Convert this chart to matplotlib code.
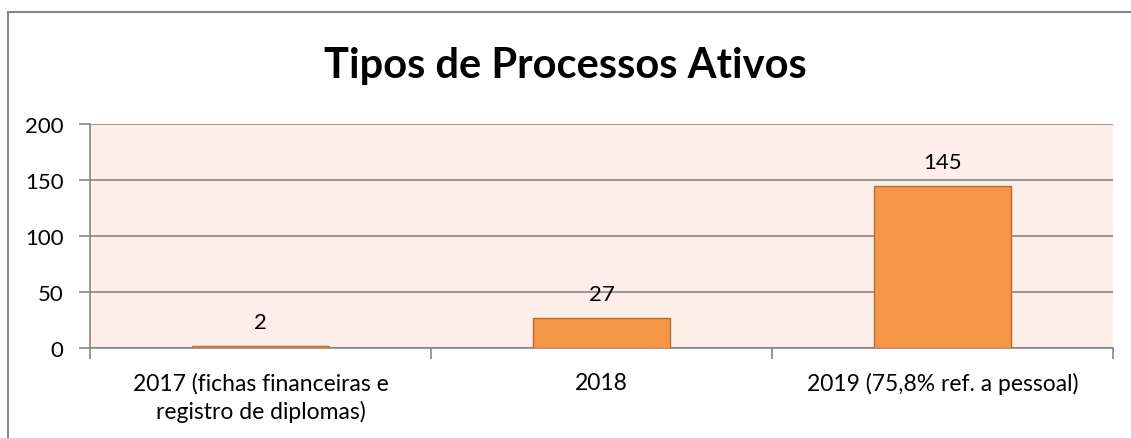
import matplotlib
matplotlib.use("Agg")
import matplotlib.pyplot as plt

categories = ["2017 (fichas financeiras e\nregistro de diplomas)", "2018", "2019 (75,8% ref. a pessoal)"]
values = [2, 27, 145]
yticks = [0, 50, 100, 150, 200]

plt.rcParams['font.family'] = ['Lato', 'DejaVu Sans']

fig = plt.figure(figsize=(11.31, 4.39), dpi=100)
ax = fig.add_axes([90/1131, 1-349/439, (1113-90)/1131, 224/439])

# outer chart border (only left and top visible, rest is cropped)
fig.add_artist(plt.Line2D([8/1131, 8/1131], [0, 1-13/439], transform=fig.transFigure, color='#868686', lw=1.5))
fig.add_artist(plt.Line2D([8/1131, 1], [1-13/439, 1-13/439], transform=fig.transFigure, color='#868686', lw=1.5))

ax.set_facecolor('#FDEEEA')
x = range(len(values))
ax.bar(x, values, width=0.4, color='#F79646', edgecolor='#B66D31', linewidth=1, zorder=3)
for xi, v in zip(x, values):
    ax.text(xi, v + 12, str(v), ha='center', va='bottom', fontsize=16)

ax.set_xlim(-0.5, 2.5)
ax.set_ylim(0, 200)
ax.set_yticks(yticks)
ax.tick_params(axis='y', labelsize=16, length=8, color='#868686', width=1.2, pad=11)
ax.yaxis.grid(True, color='#868686', linewidth=1.2, zorder=0)
ax.set_axisbelow(True)

ax.set_xticks([-0.5, 0.5, 1.5, 2.5])
ax.set_xticklabels([])
ax.tick_params(axis='x', length=8, color='#868686', width=1.2)
ax.set_xticks(list(x), minor=True)
ax.set_xticklabels(categories, minor=True, fontsize=16.5, linespacing=1.4)
ax.tick_params(axis='x', which='minor', length=0, pad=17)

for s in ['top', 'right']:
    ax.spines[s].set_visible(False)
for s in ['left', 'bottom']:
    ax.spines[s].set_color('#868686')
    ax.spines[s].set_linewidth(1.2)

fig.text(565/1131, 1-66/439, "Tipos de Processos Ativos", ha='center', va='center', fontsize=30, fontweight='bold')

fig.savefig("out.png", dpi=100)
